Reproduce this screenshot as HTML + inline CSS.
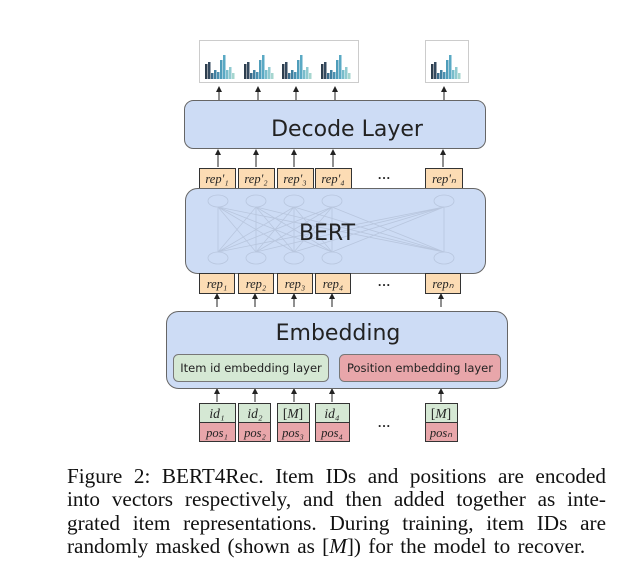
<!DOCTYPE html>
<html><head><style>
body{margin:0;background:#fff;width:631px;height:584px;overflow:hidden;position:relative}
.cap{position:absolute;left:67px;top:465px;width:539px;font-family:"Liberation Serif",serif;font-size:21.2px;line-height:23.3px;color:#111}
.cap span{display:block;text-align:justify;text-align-last:justify;white-space:nowrap}
.cap span.l{text-align-last:left;word-spacing:2px}
</style></head><body>
<svg width="631" height="470" style="position:absolute;left:0;top:0" font-family="Liberation Serif, serif">
<defs><marker id="a" markerWidth="6" markerHeight="6" refX="3" refY="3" orient="auto"><path d="M0,0 L6,3 L0,6z" fill="#222"/></marker></defs>
<rect x="199.5" y="40.5" width="159" height="42" fill="#fff" stroke="#ccc"/>
<rect x="425.5" y="40.5" width="43" height="42" fill="#fff" stroke="#ccc"/>
<g id="h1">
<rect x="205" y="64" width="2.5" height="15" fill="#2e3e4e"/><rect x="208" y="62" width="2.5" height="17" fill="#34495e"/><rect x="211" y="73" width="2.5" height="6" fill="#3a6b8a"/><rect x="214" y="70" width="2.5" height="9" fill="#3f7fa0"/><rect x="217" y="72" width="2.5" height="7" fill="#4a90b0"/><rect x="220" y="60" width="2.5" height="19" fill="#4f9dba"/><rect x="223" y="55" width="2.5" height="24" fill="#5aa9c4"/><rect x="226" y="70" width="2.5" height="9" fill="#78bccb"/><rect x="229" y="67" width="2.5" height="12" fill="#8fcad0"/><rect x="232" y="73" width="2.5" height="6" fill="#a6d6cf"/>
</g>
<use href="#h1" x="39"/><use href="#h1" x="77"/><use href="#h1" x="116"/><use href="#h1" x="226"/>
<g stroke="#222" stroke-width="1" marker-end="url(#a)">
<line x1="219" y1="100" x2="219" y2="89"/><line x1="258" y1="100" x2="258" y2="89"/><line x1="296" y1="100" x2="296" y2="89"/><line x1="335" y1="100" x2="335" y2="89"/><line x1="444" y1="100" x2="444" y2="89"/>
<line x1="218" y1="167" x2="218" y2="152"/><line x1="256" y1="167" x2="256" y2="152"/><line x1="294" y1="167" x2="294" y2="152"/><line x1="333" y1="167" x2="333" y2="152"/><line x1="443" y1="167" x2="443" y2="152"/>
<line x1="217" y1="307" x2="217" y2="296"/><line x1="255" y1="307" x2="255" y2="296"/><line x1="294" y1="307" x2="294" y2="296"/><line x1="332" y1="307" x2="332" y2="296"/><line x1="441" y1="307" x2="441" y2="296"/>
<line x1="217" y1="402" x2="217" y2="391"/><line x1="255" y1="402" x2="255" y2="391"/><line x1="294" y1="402" x2="294" y2="391"/><line x1="332" y1="402" x2="332" y2="391"/><line x1="441" y1="402" x2="441" y2="391"/>
</g>
<rect x="184.5" y="100.5" width="301" height="48" rx="9" fill="#cddcf5" stroke="#666"/>
<text x="347" y="136" font-family="DejaVu Sans, sans-serif" font-size="22" text-anchor="middle" fill="#222">Decode Layer</text>
<g fill="#fcdcb4" stroke="#333">
<rect x="199.5" y="168.5" width="36" height="20"/><rect x="238.5" y="168.5" width="36" height="20"/><rect x="277.5" y="168.5" width="36" height="20"/><rect x="315.5" y="168.5" width="36" height="20"/><rect x="425.5" y="168.5" width="37" height="20"/>
</g>
<g font-style="italic" font-size="12.5" fill="#222" text-anchor="middle">
<text x="217" y="183">rep'₁</text><text x="256" y="183">rep'₂</text><text x="295" y="183">rep'₃</text><text x="333" y="183">rep'₄</text><text x="444" y="183">rep'ₙ</text>
<text x="384" y="182" font-style="normal" font-size="13" font-weight="bold">···</text>
</g>
<rect x="185.5" y="188.5" width="300" height="85" rx="12" fill="#cddcf5" stroke="#666"/>
<g stroke="#b8c6de" fill="none" stroke-width="0.8">
<ellipse cx="218" cy="201" rx="10" ry="6"/><ellipse cx="256" cy="201" rx="10" ry="6"/><ellipse cx="294" cy="201" rx="10" ry="6"/><ellipse cx="332" cy="201" rx="10" ry="6"/><ellipse cx="444" cy="201" rx="10" ry="6"/>
<ellipse cx="218" cy="258" rx="10" ry="6"/><ellipse cx="256" cy="258" rx="10" ry="6"/><ellipse cx="294" cy="258" rx="10" ry="6"/><ellipse cx="332" cy="258" rx="10" ry="6"/><ellipse cx="444" cy="258" rx="10" ry="6"/>
<path d="M218 207L218 252M218 207L256 252M218 207L294 252M218 207L332 252M218 207L444 252M256 207L218 252M256 207L256 252M256 207L294 252M256 207L332 252M256 207L444 252M294 207L218 252M294 207L256 252M294 207L294 252M294 207L332 252M294 207L444 252M332 207L218 252M332 207L256 252M332 207L294 252M332 207L332 252M332 207L444 252M444 207L218 252M444 207L256 252M444 207L294 252M444 207L332 252M444 207L444 252"/>
</g>
<text x="327" y="240" font-family="DejaVu Sans, sans-serif" font-size="22" text-anchor="middle" fill="#222">BERT</text>
<g fill="#fcdcb4" stroke="#333">
<rect x="199.5" y="273.5" width="35" height="20"/><rect x="238.5" y="273.5" width="35" height="20"/><rect x="277.5" y="273.5" width="35" height="20"/><rect x="315.5" y="273.5" width="35" height="20"/><rect x="425.5" y="273.5" width="35" height="20"/>
</g>
<g font-style="italic" font-size="12.5" fill="#222" text-anchor="middle">
<text x="217" y="288">rep₁</text><text x="256" y="288">rep₂</text><text x="295" y="288">rep₃</text><text x="333" y="288">rep₄</text><text x="443" y="288">repₙ</text>
<text x="384" y="289" font-style="normal" font-size="13" font-weight="bold">···</text>
</g>
<rect x="166.5" y="311.5" width="341" height="77" rx="12" fill="#cddcf5" stroke="#666"/>
<text x="338" y="340" font-family="DejaVu Sans, sans-serif" font-size="22" text-anchor="middle" fill="#222">Embedding</text>
<rect x="173.5" y="354.5" width="155" height="27" rx="5" fill="#d5e8d4" stroke="#777"/>
<rect x="339.5" y="354.5" width="161" height="27" rx="5" fill="#e8a6aa" stroke="#777"/>
<g font-family="DejaVu Sans, sans-serif" font-size="11.5" fill="#222" text-anchor="middle">
<text x="251" y="372">Item id embedding layer</text><text x="420" y="372">Position embedding layer</text>
</g>
<g stroke="#333">
<g fill="#d5e8d4"><rect x="199.5" y="403.5" width="36" height="19"/><rect x="238.5" y="403.5" width="32" height="19"/><rect x="277.5" y="403.5" width="32" height="19"/><rect x="315.5" y="403.5" width="34" height="19"/><rect x="425.5" y="403.5" width="32" height="19"/></g>
<g fill="#e8a6aa"><rect x="199.5" y="422.5" width="36" height="19"/><rect x="238.5" y="422.5" width="32" height="19"/><rect x="277.5" y="422.5" width="32" height="19"/><rect x="315.5" y="422.5" width="34" height="19"/><rect x="425.5" y="422.5" width="32" height="19"/></g>
</g>
<g font-size="13.5" fill="#222" text-anchor="middle">
<text x="217" y="418" font-style="italic">id₁</text><text x="255" y="418" font-style="italic">id₂</text><text x="293" y="418">[<tspan font-style="italic">M</tspan>]</text><text x="332" y="418" font-style="italic">id₄</text><text x="441" y="418">[<tspan font-style="italic">M</tspan>]</text>
<text x="217" y="437" font-style="italic" font-size="12.5">pos₁</text><text x="255" y="437" font-style="italic" font-size="12.5">pos₂</text><text x="293" y="437" font-style="italic" font-size="12.5">pos₃</text><text x="332" y="437" font-style="italic" font-size="12.5">pos₄</text><text x="441" y="437" font-style="italic" font-size="12.5">posₙ</text>
<text x="384" y="430" font-size="13" font-weight="bold">···</text>
</g>
</svg>
<div class="cap"><span>Figure 2: BERT4Rec. Item IDs and positions are encoded</span><span>into vectors respectively, and then added together as inte-</span><span>grated item representations. During training, item IDs are</span><span class="l">randomly masked (shown as [<i>M</i>]) for the model to recover.</span></div>
</body></html>
